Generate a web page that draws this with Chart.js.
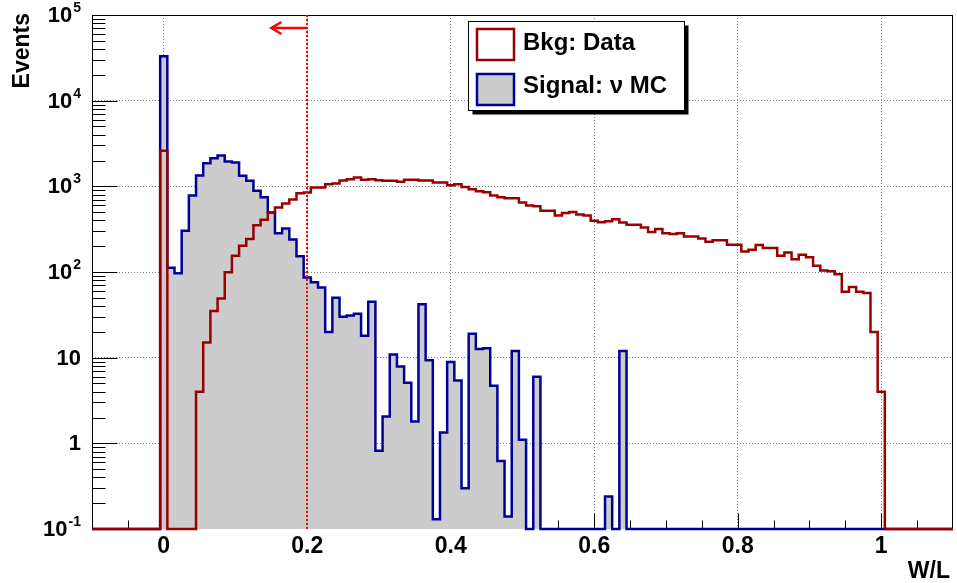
<!DOCTYPE html>
<html>
<head>
<meta charset="utf-8">
<script src="https://cdn.jsdelivr.net/npm/chart.js@4.4.0/dist/chart.umd.min.js"></script>
<style>
  html, body { margin: 0; padding: 0; background: #fff; }
  #c { display: block; }
</style>
</head>
<body>
<canvas id="c" width="957" height="583"></canvas>
<script>
// W/L histograms: bins 0.01 wide, centred on 0.00, 0.01, ... (empty bins = 0)
const binWidth = 0.01;

// Bkg: Data, bins 0.00 .. 1.00
const bkgData = [
  2600, 0, 0, 0, 0, 4, 15, 35, 49, 99,
  155, 202, 242, 352, 406, 494, 566, 630, 701, 833,
  847, 968, 968, 1061, 1079, 1169, 1213, 1268, 1191, 1213,
  1180, 1159, 1159, 1130, 1191, 1191, 1169, 1169, 1107, 1107,
  1033, 1061, 979, 927, 879, 855, 781, 748, 728, 728,
  647, 597, 587, 518, 518, 456, 487, 500, 469, 456,
  396, 380, 390, 414, 378, 355, 355, 330, 294, 317,
  284, 277, 284, 259, 259, 246, 225, 235, 235, 208,
  208, 173, 182, 207, 190, 190, 155, 169, 141, 159,
  149, 118, 104, 102, 94, 59, 67, 59, 57, 20,
  4
];

// Signal: nu MC, bins 0.00 .. 0.64
const signalMC = [
  33000, 112, 97, 303, 781, 1337, 1866, 2133, 2287, 1946,
  1897, 1325, 1159, 886, 748, 494, 284, 322, 239, 153,
  86, 76, 66, 20, 50, 30, 31, 32.5, 18, 45,
  0.82, 2.06, 10.9, 7.9, 5.1, 1.8, 42, 9.3, 0.13, 1.34,
  8.9, 5.4, 0.30, 19, 12.6, 12.9, 4.7, 0.62, 0.14, 12,
  1.1, 0, 6.0, 0, 0, 0, 0, 0, 0, 0,
  0, 0, 0.24, 0, 12
];

const xTicks = [0, 0.2, 0.4, 0.6, 0.8, 1];
const yDecades = [0.1, 1, 10, 100, 1000, 10000, 100000];
const yTickLabels = [['10', '-1'], ['1', ''], ['10', ''], ['10', '2'], ['10', '3'], ['10', '4'], ['10', '5']];
const cutValue = 0.2;
const arrowTip = 0.15;
const arrowLevel = 70000;

const xMin = -0.1, xMax = 1.1;
const yMin = 0.1, yMax = 100000;
const FONT = "'Liberation Sans', Arial, Helvetica, sans-serif";

// step outline: one point on each bin's low edge, empty bins sit on the axis floor
function histPoints(counts) {
  const pts = [{ x: xMin - 0.005, y: yMin }];
  counts.forEach((c, i) => {
    pts.push({ x: i * binWidth - binWidth / 2, y: Math.max(c, yMin) });
  });
  pts.push({ x: counts.length * binWidth - binWidth / 2, y: yMin });
  pts.push({ x: xMax + 0.005, y: yMin });
  return pts;
}

function frameBox(a) {
  return {
    L: Math.round(a.left) + 0.5, R: Math.round(a.right) - 0.5,
    T: Math.round(a.top) + 0.5, B: Math.round(a.bottom) - 0.5
  };
}

// ROOT-like frame, ticks, labels, cut line and legend
const rootStyle = {
  id: 'rootStyle',
  beforeDatasetsDraw(chart) {
    const { ctx, chartArea: a, scales: { x, y } } = chart;
    const { L, R, T, B } = frameBox(a);
    ctx.save();
    ctx.strokeStyle = '#000';
    ctx.lineWidth = 1;
    ctx.strokeRect(L, T, R - L, B - T);

    // y ticks (inside, on the left axis)
    ctx.beginPath();
    for (let d = 0; d < yDecades.length; d++) {
      const dec = yDecades[d];
      const py = Math.round(y.getPixelForValue(dec)) + 0.5;
      ctx.moveTo(L, py); ctx.lineTo(L + 25, py);
      if (d < yDecades.length - 1) {
        for (let m = 2; m <= 9; m++) {
          const pm = Math.round(y.getPixelForValue(dec * m)) + 0.5;
          ctx.moveTo(L, pm); ctx.lineTo(L + 13, pm);
        }
      }
    }
    // x ticks (inside, on the bottom axis)
    for (let v = -0.05; v < xMax; v += 0.05) {
      const r = Math.round(v * 100) / 100;
      const px = Math.round(x.getPixelForValue(r)) + 0.5;
      const major = xTicks.some(t => Math.abs(t - r) < 1e-6);
      ctx.moveTo(px, B); ctx.lineTo(px, B - (major ? 15 : 8));
    }
    ctx.stroke();
    ctx.restore();
  },
  afterDatasetsDraw(chart) {
    const { ctx, chartArea: a, scales: { x, y } } = chart;
    ctx.save();

    // cut at W/L = 0.2
    const xc = Math.round(x.getPixelForValue(cutValue));
    ctx.strokeStyle = '#ff0000';
    ctx.lineWidth = 2;
    ctx.setLineDash([2, 2]);
    ctx.beginPath();
    ctx.moveTo(xc, a.top);
    ctx.lineTo(xc, a.bottom);
    ctx.stroke();
    ctx.setLineDash([]);

    // arrow pointing to the kept side
    const ya = Math.round(y.getPixelForValue(arrowLevel));
    const xt = x.getPixelForValue(arrowTip);
    ctx.lineWidth = 2.5;
    ctx.beginPath();
    ctx.moveTo(xc, ya);
    ctx.lineTo(xt, ya);
    ctx.moveTo(xt + 10, ya - 6);
    ctx.lineTo(xt, ya);
    ctx.lineTo(xt + 10, ya + 6);
    ctx.stroke();

    ctx.fillStyle = '#000';
    // x labels
    ctx.font = 'bold 23px ' + FONT;
    ctx.textAlign = 'center';
    ctx.textBaseline = 'alphabetic';
    xTicks.forEach(v => {
      ctx.fillText(String(v), x.getPixelForValue(v), 553);
    });
    // x title
    ctx.textAlign = 'right';
    ctx.fillText('W/L', 950, 578);

    // y labels with exponents
    yDecades.forEach((dec, i) => {
      const py = y.getPixelForValue(dec);
      const [base, exp] = yTickLabels[i];
      let xr = 81;
      ctx.textAlign = 'right';
      if (exp) {
        ctx.font = 'bold 14px ' + FONT;
        ctx.textBaseline = 'alphabetic';
        ctx.fillText(exp, xr, py - 3);
        xr -= ctx.measureText(exp).width + 1;
      }
      ctx.font = 'bold 22px ' + FONT;
      ctx.textBaseline = 'middle';
      ctx.fillText(base, xr, py + 1);
    });

    // y title
    ctx.save();
    ctx.translate(23, 13);
    ctx.rotate(-Math.PI / 2);
    ctx.font = 'bold 23px ' + FONT;
    ctx.textAlign = 'right';
    ctx.textBaseline = 'middle';
    ctx.fillText('Events', 0, 0);
    ctx.restore();

    // legend box with shadow
    const bx = 468.5, by = 21.5, bw = 216, bh = 89;
    ctx.fillStyle = '#000';
    ctx.fillRect(bx + 4, by + 4, bw, bh);
    ctx.fillStyle = '#fff';
    ctx.fillRect(bx, by, bw, bh);
    ctx.strokeStyle = '#000';
    ctx.lineWidth = 1;
    ctx.strokeRect(bx, by, bw, bh);

    const entries = [
      { label: 'Bkg: Data', ds: chart.data.datasets[0], top: 29, base: 50 },
      { label: 'Signal: \u03bd MC', ds: chart.data.datasets[1], top: 74, base: 93 }
    ];
    entries.forEach(e => {
      const fill = e.ds.fill ? e.ds.backgroundColor : '#fff';
      ctx.fillStyle = fill;
      ctx.fillRect(477, e.top, 37, 31);
      ctx.strokeStyle = e.ds.borderColor;
      ctx.lineWidth = 2.5;
      ctx.strokeRect(477, e.top, 37, 31);
      ctx.fillStyle = '#000';
      ctx.font = 'bold 24px ' + FONT;
      ctx.textAlign = 'left';
      ctx.textBaseline = 'alphabetic';
      ctx.fillText(e.label, 523, e.base);
    });

    ctx.restore();
  }
};

new Chart(document.getElementById('c'), {
  type: 'line',
  data: {
    datasets: [
      {
        label: 'Bkg: Data',
        data: histPoints(bkgData),
        borderColor: '#990000',
        backgroundColor: 'rgba(0,0,0,0)',
        borderWidth: 2.5,
        fill: false,
        stepped: true,
        pointRadius: 0,
        borderJoinStyle: 'miter',
        clip: { left: 0, top: 0, right: 0, bottom: 3 }
      },
      {
        label: 'Signal: \u03bd MC',
        data: histPoints(signalMC),
        borderColor: '#000099',
        backgroundColor: '#cccccc',
        borderWidth: 2.5,
        fill: 'start',
        stepped: true,
        pointRadius: 0,
        borderJoinStyle: 'miter',
        clip: { left: 0, top: 0, right: 0, bottom: 3 }
      }
    ]
  },
  options: {
    responsive: false,
    animation: false,
    events: [],
    layout: { padding: { left: 92, right: 4, top: 15, bottom: 54 } },
    plugins: {
      legend: { display: false },
      tooltip: { enabled: false }
    },
    scales: {
      x: {
        type: 'linear',
        min: xMin,
        max: xMax,
        ticks: { display: false },
        border: { display: false, dash: [1, 2] },
        grid: { drawTicks: false, color: '#808080', lineWidth: 1 },
        afterBuildTicks: s => { s.ticks = xTicks.map(v => ({ value: v })); }
      },
      y: {
        type: 'logarithmic',
        min: yMin,
        max: yMax,
        ticks: { display: false },
        border: { display: false, dash: [1, 2] },
        grid: { drawTicks: false, color: '#808080', lineWidth: 1 },
        afterBuildTicks: s => { s.ticks = yDecades.slice(1, -1).map(v => ({ value: v })); }
      }
    }
  },
  plugins: [rootStyle]
});
</script>
</body>
</html>
